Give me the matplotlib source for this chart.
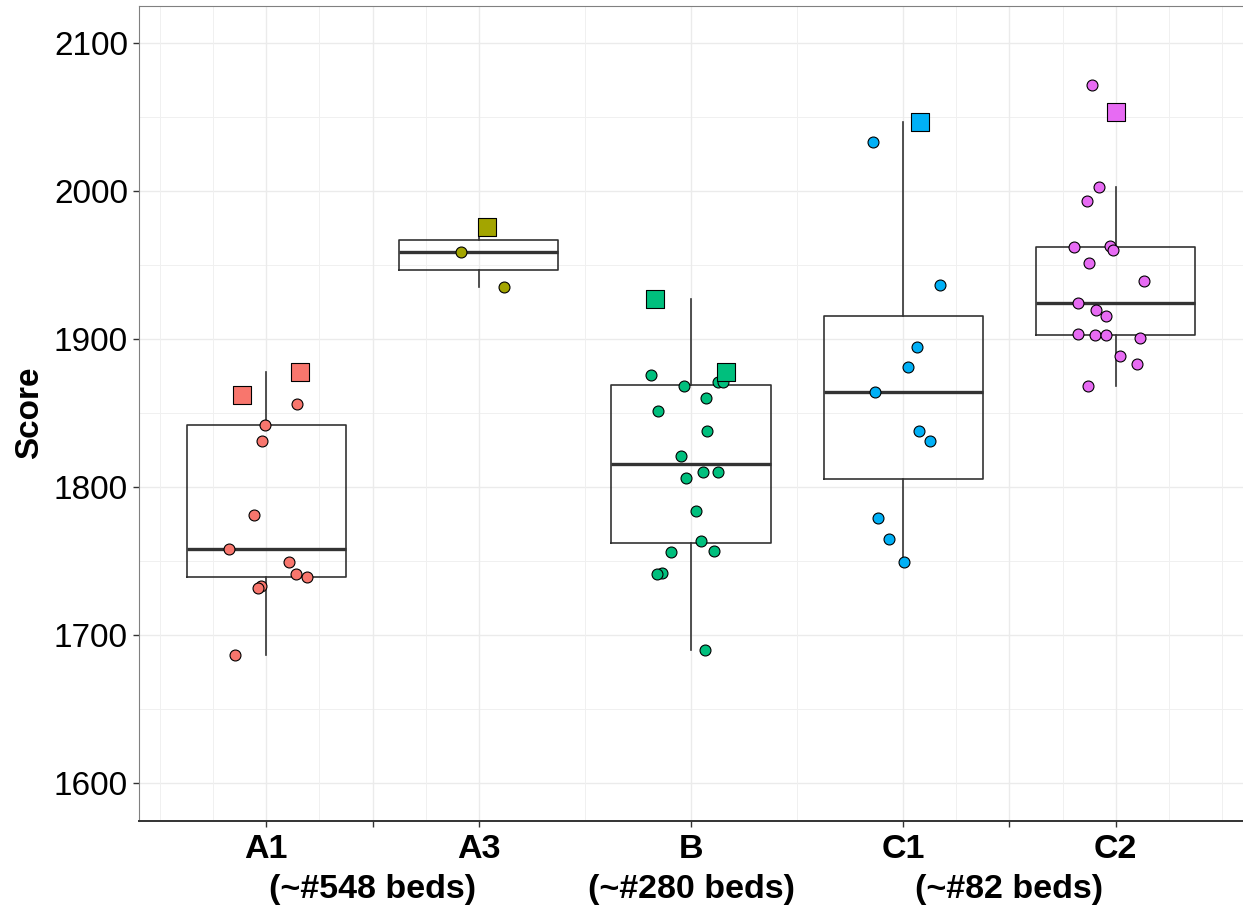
import numpy as np
import matplotlib.pyplot as plt

plt.rcParams['font.family'] = ['Liberation Sans', 'DejaVu Sans']

groups = ["A1", "A3", "B", "C1", "C2"]
colors = ["#F8766D", "#A3A500", "#00BF7D", "#00B0F6", "#E76BF3"]

# jittered circles (x position, score)
a1_x = [1.146, 0.995, 0.980, 0.942, 0.822, 1.105, 1.138, 1.193, 0.975, 0.959, 0.854]
a1_y = [1856.4, 1841.8, 1831.2, 1781.3, 1758.6, 1749.3, 1741.2, 1739.2, 1733.4, 1732.0, 1686.4]
a3_x = [1.915, 2.118]
a3_y = [1958.5, 1934.9]
b_x = [2.813, 2.967, 3.129, 3.153, 3.072, 2.843, 3.076, 2.954, 3.055, 3.129,
       2.975, 3.025, 3.046, 2.907, 3.110, 2.863, 2.838, 3.068]
b_y = [1875.8, 1868.1, 1871.3, 1871.3, 1860.5, 1851.2, 1838.2, 1821.3, 1810.3, 1810.3,
       1806.0, 1784.2, 1763.8, 1756.1, 1757.2, 1742.2, 1741.3, 1690.2]
c1_x = [3.858, 4.175, 4.065, 4.024, 3.869, 4.072, 4.126, 3.882, 3.931, 4.003]
c1_y = [2033.0, 1936.5, 1894.4, 1881.4, 1864.3, 1838.2, 1831.4, 1779.3, 1765.3, 1749.3]
c2_x = [4.891, 4.924, 4.863, 4.802, 4.973, 4.989, 4.874, 5.132, 4.824, 4.906,
        4.955, 4.824, 4.902, 4.956, 5.115, 5.019, 5.099, 4.869]
c2_y = [2071.7, 2002.4, 1993.4, 1962.3, 1962.5, 1960.3, 1951.3, 1939.4, 1924.4, 1919.4,
        1915.3, 1903.2, 1902.8, 1902.5, 1900.9, 1888.3, 1883.4, 1868.3]

# highlighted squares
a1_sq_x, a1_sq_y = [0.887, 1.160], [1862.5, 1878.0]
a3_sq_x, a3_sq_y = [2.041], [1975.8]
b_sq_x, b_sq_y = [2.830, 3.165], [1927.3, 1877.8]
c1_sq_x, c1_sq_y = [4.080], [2046.5]
c2_sq_x, c2_sq_y = [5.001], [2053.4]

circ_x = [a1_x, a3_x, b_x, c1_x, c2_x]
circ_y = [a1_y, a3_y, b_y, c1_y, c2_y]
sq_x = [a1_sq_x, a3_sq_x, b_sq_x, c1_sq_x, c2_sq_x]
sq_y = [a1_sq_y, a3_sq_y, b_sq_y, c1_sq_y, c2_sq_y]

tick_pos = [1, 1.5, 2, 3, 4, 4.5, 5]
tick_labels = ["A1", "", "A3", "B", "C1", "", "C2"]
# second row of the x labels
bed_pos = [1.5, 3, 4.5]
bed_labels = ["(~#548 beds)", "(~#280 beds)", "(~#82 beds)"]

fig = plt.figure(figsize=(12.43, 9.05), dpi=100)
ax = fig.add_axes([139 / 1243, 1 - 820.5 / 905, 1 - 139 / 1243, (820.5 - 5.7) / 905])

# grid like ggplot theme_bw
for y in np.arange(1600, 2101, 100):
    ax.axhline(y, color="#ebebeb", lw=1.0, zorder=0)
for y in np.arange(1650, 2101, 100):
    ax.axhline(y, color="#f0f0f0", lw=0.7, zorder=0)
for x in tick_pos:
    ax.axvline(x, color="#ebebeb", lw=1.0, zorder=0)
for x in [0.5, 0.75, 1.25, 1.75, 2.5, 3.5, 4.25, 4.75, 5.25, 5.5]:
    ax.axvline(x, color="#f0f0f0", lw=0.7, zorder=0)

box_data = [cy + sy for cy, sy in zip(circ_y, sq_y)]
ax.boxplot(box_data, positions=[1, 2, 3, 4, 5], widths=0.75, whis=1.5,
           showfliers=False, showcaps=False,
           boxprops=dict(color="#333333", lw=1.2),
           whiskerprops=dict(color="#333333", lw=1.2),
           medianprops=dict(color="#333333", lw=2.4), zorder=2)

for i in range(len(groups)):
    ax.scatter(circ_x[i], circ_y[i], s=62, color=colors[i], edgecolor="black",
               linewidth=0.8, zorder=3)
    ax.scatter(sq_x[i], sq_y[i], s=170, marker="s", color=colors[i], edgecolor="black",
               linewidth=0.8, zorder=4)

ax.set_xlim(0.4, 5.6)
ax.set_ylim(1575, 2125)
ax.set_xticks(tick_pos)
ax.set_xticklabels(tick_labels, fontsize=24.5, fontweight="bold")
ax.set_yticks(np.arange(1600, 2101, 100))
ax.tick_params(axis="y", labelsize=24, length=4, width=1, color="#333333", pad=4)
ax.tick_params(axis="x", length=4, width=1, color="#333333", pad=6)
ax.set_ylabel("Score", fontsize=24, fontweight="bold", labelpad=6)

for x, lab in zip(bed_pos, bed_labels):
    ax.annotate(lab, xy=(x, 0), xycoords=("data", "axes fraction"),
                xytext=(0, -49.5), textcoords="offset points",
                ha="center", va="center", fontsize=24.5, fontweight="bold")

ax.spines["right"].set_visible(False)
ax.spines["left"].set_color("#808080")
ax.spines["top"].set_color("#808080")
ax.spines["bottom"].set_color("#333333")
ax.spines["bottom"].set_linewidth(1.4)

fig.savefig("out.png", dpi=100)
